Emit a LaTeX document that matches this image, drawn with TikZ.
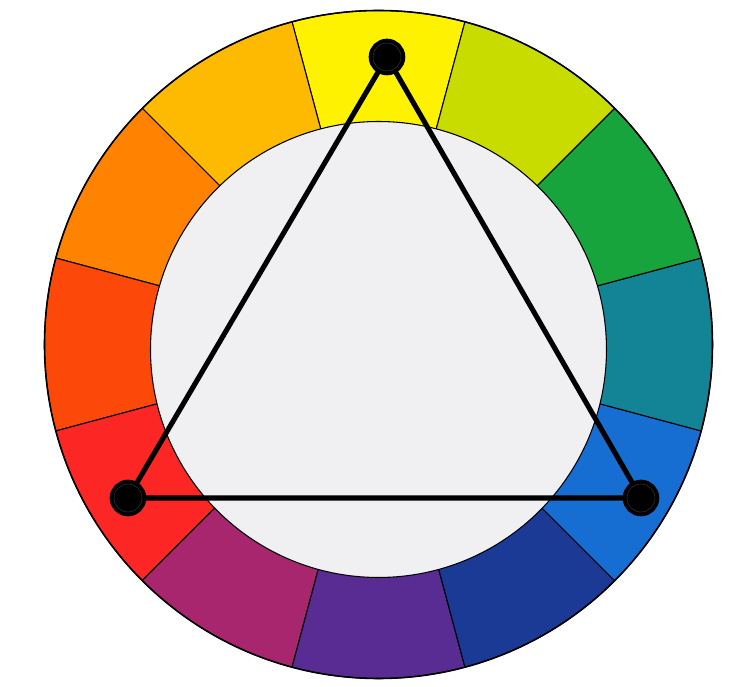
\documentclass[tikz,border=0pt]{standalone}
\usepackage{xcolor}
\usepackage{tikz}
\usetikzlibrary{positioning}

\definecolor{wheelY}{HTML}{FFF200}
\definecolor{wheelYO}{HTML}{FEBA00}
\definecolor{wheelO}{HTML}{FF8200}
\definecolor{wheelRO}{HTML}{FC4808}
\definecolor{wheelR}{HTML}{FC2624}
\definecolor{wheelRV}{HTML}{A8266E}
\definecolor{wheelV}{HTML}{582C92}
\definecolor{wheelBV}{HTML}{1A3A96}
\definecolor{wheelB}{HTML}{166ED2}
\definecolor{wheelT}{HTML}{128496}
\definecolor{wheelG}{HTML}{18A43C}
\definecolor{wheelYG}{HTML}{C8DC00}
\definecolor{wheelIn}{HTML}{F0F0F3}

\tikzset{
    huedot/.style={circle, fill=black, draw=black, double=black!80, double distance=0.3pt,
        line width=2.3pt, minimum size=0.56cm, inner sep=0pt},
    triad/.style={line width=2.9pt, black},
}

\begin{document}
\begin{tikzpicture}[scale=0.02]
    \useasboundingbox (-378.5,-342.5) rectangle (371.5,344.5);
    % Colour wheel: twelve hues, yellow on top
    \foreach \hue [count=\i from 0] in {wheelY,wheelYO,wheelO,wheelRO,wheelR,wheelRV,wheelV,wheelBV,wheelB,wheelT,wheelG,wheelYG} {
        \filldraw[fill=\hue, draw=black, line width=0.6pt] (0,0) -- (75+30*\i:334)
            arc[start angle=75+30*\i, end angle=105+30*\i, radius=334] -- cycle;
    }
    \draw[line width=0.9pt] (0,0) circle (334);
    
    % Inner disc
    \filldraw[fill=wheelIn, draw=black, line width=0.6pt] (0,-5) circle (228);
    
    % Triad: yellow, red, blue
    \node[huedot] (dotY) at (8.5,287.5) {};
    \node[huedot] (dotR) at (-250.5,-153.5) {};
    \node[huedot] (dotB) at (262.5,-153.5) {};
    \draw[triad] (dotY) -- (dotR) -- (dotB) -- (dotY);
\end{tikzpicture}
\end{document}
